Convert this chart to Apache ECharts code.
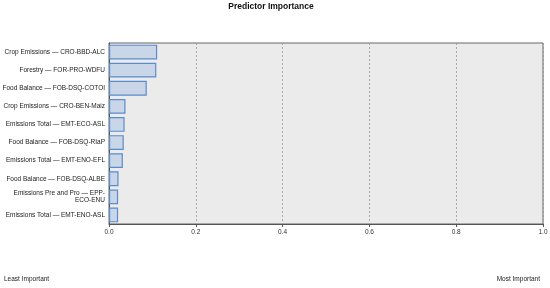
<!DOCTYPE html>
<html lang="en">
  <head>
    <meta charset="UTF-8" />
    <title>Predictor Importance</title>
    <script src="https://cdn.jsdelivr.net/npm/echarts@6/dist/echarts.min.js"></script>
    <style>
      body { margin: 0; background: #fff; }
      #main { width: 550px; height: 288px; }
    </style>
  </head>
  <body>
    <div id="main"></div>
    <script>
      // predictors, top to bottom
      const predictors = [
        "Crop Emissions — CRO-BBD-ALC",
        "Forestry — FOR-PRO-WDFU",
        "Food Balance — FOB-DSQ-COTOI",
        "Crop Emissions — CRO-BEN-Maiz",
        "Emissions Total — EMT-ECO-ASL",
        "Food Balance — FOB-DSQ-RIaP",
        "Emissions Total — EMT-ENO-EFL",
        "Food Balance — FOB-DSQ-ALBE",
        "Emissions Pre and Pro — EPP-\nECO-ENU",
        "Emissions Total — EMT-ENO-ASL"
      ];
      const importance = [0.111, 0.109, 0.087, 0.038, 0.036, 0.034, 0.032, 0.022, 0.021, 0.021];
      const xTicks = [0, 0.2, 0.4, 0.6, 0.8, 1.0];

      const chart = echarts.init(document.getElementById("main"));

      chart.setOption({
        animation: false,
        textStyle: { fontFamily: "Liberation Sans, Arial, sans-serif" },
        title: {
          text: "Predictor Importance",
          left: 271,
          textAlign: "center",
          top: 2,
          padding: 0,
          textStyle: { fontSize: 8.5, fontWeight: "bold", color: "#111" }
        },
        graphic: [
          { type: "text", left: 4, top: 276, style: { text: "Least Important", fontSize: 6.5, fill: "#222" } },
          { type: "text", right: 10, top: 276, style: { text: "Most Important", fontSize: 6.5, fill: "#222" } }
        ],
        grid: {
          left: 109, right: 7, top: 43, bottom: 64,
          outerBoundsMode: "none",
          show: true, backgroundColor: "#ebebeb", borderColor: "#666", borderWidth: 1
        },
        xAxis: {
          type: "value",
          min: 0, max: 1, interval: 0.2,
          axisLine: { show: true, lineStyle: { color: "#555" } },
          axisTick: { show: true, length: 3, lineStyle: { color: "#555" } },
          axisLabel: {
            fontSize: 6.5, color: "#333", margin: 5,
            formatter: v => xTicks.includes(v) ? v.toFixed(1) : ""
          },
          splitLine: { show: true, lineStyle: { color: "#999", type: [2, 2], width: 0.8 } }
        },
        yAxis: {
          type: "category",
          inverse: true,
          data: predictors,
          axisLine: { show: true, lineStyle: { color: "#555" } },
          axisTick: { show: false },
          axisLabel: { fontSize: 6.5, color: "#222", margin: 4, lineHeight: 7.5, align: "right" }
        },
        series: [{
          type: "bar",
          data: importance,
          barWidth: "82%",
          itemStyle: { color: "#c8d6e8", borderColor: "#5b8ccc", borderWidth: 1.2 }
        }]
      });
    </script>
  </body>
</html>
